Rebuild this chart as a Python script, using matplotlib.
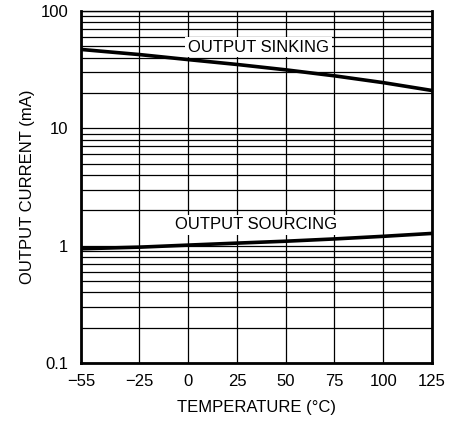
import matplotlib
matplotlib.use("Agg")
import matplotlib.pyplot as plt
from matplotlib.ticker import FixedLocator, NullFormatter

plt.rcParams['font.family'] = ['Liberation Sans', 'DejaVu Sans']

# temperatures (C)
temp = [-55, -25, 0, 25, 50, 75, 100, 125]
# output current (mA)
sinking = [47, 42.5, 38.5, 35, 31.5, 28, 24.5, 21]
sourcing = [0.94, 0.97, 1.01, 1.05, 1.09, 1.14, 1.2, 1.27]

x_ticks = [-55, -25, 0, 25, 50, 75, 100, 125]
x_labels = ['\u221255', '\u221225', '0', '25', '50', '75', '100', '125']
y_ticks = [0.1, 1, 10, 100]
y_labels = ['0.1', '1', '10', '100']

fig = plt.figure(figsize=(4.61, 4.22), dpi=100)
ax = fig.add_axes([0.1757, 0.140, 0.7613, 0.834])

ax.set_yscale('log')
ax.set_xlim(-55, 125)
ax.set_ylim(0.1, 100)

# grid lines
ax.xaxis.set_major_locator(FixedLocator(x_ticks))
ax.set_xticklabels(x_labels)
ax.yaxis.set_major_locator(FixedLocator(y_ticks))
ax.set_yticklabels(y_labels)
minor = [m * 10.0 ** d for d in range(-1, 2) for m in range(2, 10)]
ax.yaxis.set_minor_locator(FixedLocator(minor))
ax.yaxis.set_minor_formatter(NullFormatter())
ax.grid(True, which='both', color='black', linewidth=0.9)
ax.tick_params(which='both', length=0, labelsize=12)
ax.tick_params(axis='y', pad=9)
ax.tick_params(axis='x', pad=8)

for s in ['left', 'right', 'bottom']:
    ax.spines[s].set_linewidth(2)
ax.spines['top'].set_linewidth(1)

ax.plot(temp, sinking, color='black', linewidth=2.6, zorder=3)
ax.plot(temp, sourcing, color='black', linewidth=2.6, zorder=3)

ax.text(36, 49.3, 'OUTPUT SINKING', fontsize=12, ha='center', va='center',
        bbox=dict(facecolor='white', edgecolor='none', pad=2), zorder=4)
ax.text(35, 1.5, 'OUTPUT SOURCING', fontsize=12, ha='center', va='center',
        bbox=dict(facecolor='white', edgecolor='none', pad=2), zorder=4)

ax.set_xlabel('TEMPERATURE (\u00b0C)', fontsize=12, labelpad=8)
ax.set_ylabel('OUTPUT CURRENT (mA)', fontsize=12, labelpad=4)

fig.savefig('out.png', dpi=100)
